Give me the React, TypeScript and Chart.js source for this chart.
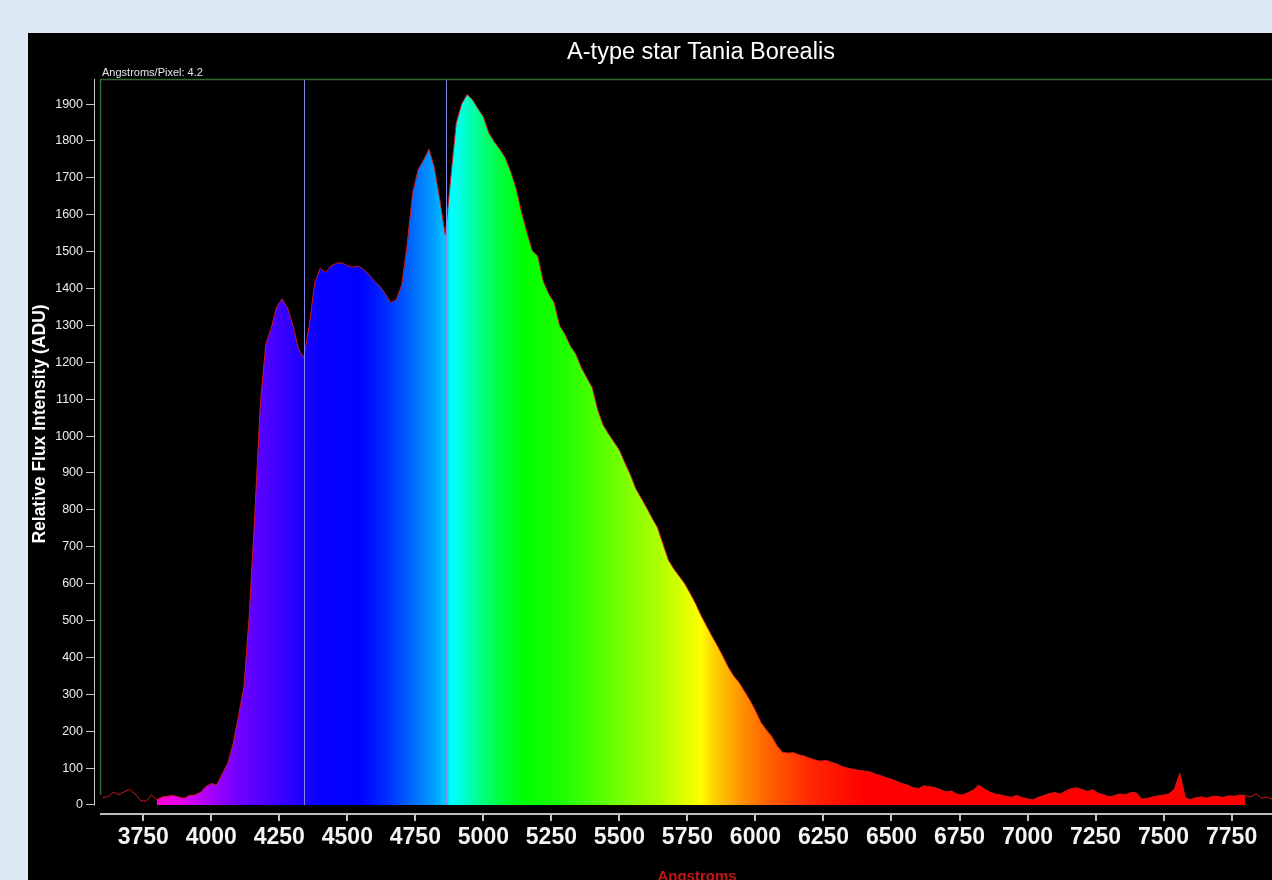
import React, { useEffect, useRef } from "react";
import { Chart, registerables } from "chart.js";

Chart.register(...registerables);

// ---- Data -----------------------------------------------------------------
const chartTitle = "A-type star Tania Borealis";
const dispersionLabel = "Angstroms/Pixel: 4.2";
const yAxisTitle = "Relative Flux Intensity (ADU)";
const xAxisTitle = "Angstroms";

const wavelengths = [
  3600, 3620, 3640, 3660, 3680, 3700, 3720, 3740, 3760, 3780,
  3800, 3820, 3840, 3860, 3880, 3900, 3920, 3940, 3960, 3980,
  4000, 4020, 4040, 4060, 4080, 4100, 4120, 4140, 4160, 4180,
  4200, 4220, 4240, 4260, 4280, 4300, 4320, 4340, 4360, 4380,
  4400, 4420, 4440, 4460, 4480, 4500, 4520, 4540, 4560, 4580,
  4600, 4620, 4640, 4660, 4680, 4700, 4720, 4740, 4760, 4780,
  4800, 4820, 4840, 4860, 4880, 4900, 4920, 4940, 4960, 4980,
  5000, 5020, 5040, 5060, 5080, 5100, 5120, 5140, 5160, 5180,
  5200, 5220, 5240, 5260, 5280, 5300, 5320, 5340, 5360, 5380,
  5400, 5420, 5440, 5460, 5480, 5500, 5520, 5540, 5560, 5580,
  5600, 5620, 5640, 5660, 5680, 5700, 5720, 5740, 5760, 5780,
  5800, 5820, 5840, 5860, 5880, 5900, 5920, 5940, 5960, 5980,
  6000, 6020, 6040, 6060, 6080, 6100, 6120, 6140, 6160, 6180,
  6200, 6220, 6240, 6260, 6280, 6300, 6320, 6340, 6360, 6380,
  6400, 6420, 6440, 6460, 6480, 6500, 6520, 6540, 6560, 6580,
  6600, 6620, 6640, 6660, 6680, 6700, 6720, 6740, 6760, 6780,
  6800, 6820, 6840, 6860, 6880, 6900, 6920, 6940, 6960, 6980,
  7000, 7020, 7040, 7060, 7080, 7100, 7120, 7140, 7160, 7180,
  7200, 7220, 7240, 7260, 7280, 7300, 7320, 7340, 7360, 7380,
  7400, 7420, 7440, 7460, 7480, 7500, 7520, 7540, 7560, 7580,
  7600, 7620, 7640, 7660, 7680, 7700, 7720, 7740, 7760, 7780,
  7800, 7820, 7840, 7860, 7880, 7900,
];

const flux = [
  20, 22, 35, 28, 36, 42, 30, 12, 10, 27,
  14, 22, 24, 26, 22, 18, 26, 27, 34, 50,
  58, 54, 84, 112, 165, 242, 320, 520, 790, 1085,
  1248, 1292, 1350, 1372, 1348, 1300, 1238, 1212, 1300, 1415,
  1455, 1443, 1462, 1468, 1470, 1462, 1458, 1461, 1452, 1438,
  1420, 1406, 1385, 1362, 1370, 1410, 1520, 1660, 1722, 1748,
  1778, 1728, 1640, 1545, 1700, 1848, 1900, 1926, 1912, 1888,
  1866, 1822, 1798, 1778, 1755, 1718, 1672, 1608, 1552, 1502,
  1488, 1420, 1386, 1362, 1300, 1276, 1244, 1222, 1186, 1158,
  1132, 1072, 1030, 1006, 984, 962, 928, 896, 858, 832,
  806, 778, 752, 708, 664, 640, 620, 600, 574, 546,
  514, 486, 458, 432, 404, 374, 350, 332, 308, 284,
  256, 224, 204, 186, 160, 143, 141, 142, 136, 133,
  127, 122, 119, 121, 116, 111, 104, 100, 97, 94,
  92, 90, 84, 80, 74, 70, 64, 58, 54, 47,
  45, 52, 50, 47, 42, 36, 38, 30, 27, 33,
  40, 54, 44, 36, 30, 28, 24, 21, 26, 20,
  17, 14, 21, 26, 31, 34, 30, 38, 44, 47,
  42, 37, 41, 32, 28, 22, 26, 30, 28, 34,
  33, 16, 18, 22, 25, 27, 30, 44, 86, 20,
  15, 20, 22, 19, 24, 23, 21, 25, 24, 27,
  26, 22, 30, 18, 22, 15,
];

const xTickValues = [3750, 4000, 4250, 4500, 4750, 5000, 5250, 5500, 5750, 6000, 6250, 6500, 6750, 7000, 7250, 7500, 7750];
const yTickValues = [0, 100, 200, 300, 400, 500, 600, 700, 800, 900, 1000, 1100, 1200, 1300, 1400, 1500, 1600, 1700, 1800, 1900];

// Balmer line markers (H-gamma, H-beta)
const markerLines = [4340, 4861];

// wavelength range that is filled with spectrum colours
const fillStart = 3800;
const fillEnd = 7800;

// ---- Styles ---------------------------------------------------------------
const spectrumStops: [number, string][] = [
  [3800, "#ff00d8"],
  [3900, "#e000f0"],
  [4000, "#a400ff"],
  [4100, "#7000ff"],
  [4200, "#5000ff"],
  [4300, "#2a00ff"],
  [4400, "#0600ff"],
  [4550, "#0000ff"],
  [4650, "#0030ff"],
  [4750, "#0070ff"],
  [4820, "#00a0ff"],
  [4860, "#00c8ff"],
  [4880, "#00ffff"],
  [4920, "#00ffe0"],
  [4980, "#00ff90"],
  [5060, "#00ff40"],
  [5150, "#00ff00"],
  [5300, "#20ff00"],
  [5450, "#60ff00"],
  [5650, "#b0ff00"],
  [5800, "#ffff00"],
  [5850, "#ffd000"],
  [5950, "#ff9000"],
  [6050, "#ff6000"],
  [6200, "#ff2800"],
  [6400, "#ff0000"],
  [7800, "#ff0000"],
];

const FONT = "'Liberation Sans', Arial, sans-serif";
const CANVAS_W = 1346;
const CANVAS_H = 847;

function spectrumGradient(chart: any) {
  const { ctx, chartArea, scales } = chart;
  if (!chartArea || !scales || !scales.x) return "rgba(0,0,0,0)";
  const x0 = scales.x.getPixelForValue(fillStart);
  const x1 = scales.x.getPixelForValue(fillEnd);
  const g = ctx.createLinearGradient(x0, 0, x1, 0);
  for (const [w, c] of spectrumStops) {
    g.addColorStop(Math.min(1, Math.max(0, (w - fillStart) / (fillEnd - fillStart))), c);
  }
  return g;
}

const decoPlugin = {
  id: "deco",
  afterDatasetsDraw(chart: any) {
    const { ctx, chartArea, scales } = chart;
    const y0 = scales.y.getPixelForValue(0);
    ctx.save();
    ctx.strokeStyle = "#7f86e8";
    ctx.lineWidth = 1;
    for (const w of markerLines) {
      const x = Math.round(scales.x.getPixelForValue(w)) + 0.5;
      ctx.beginPath();
      ctx.moveTo(x, chartArea.top);
      ctx.lineTo(x, y0);
      ctx.stroke();
    }
    ctx.restore();
  },
  afterDraw(chart: any) {
    const { ctx, chartArea, scales, width } = chart;
    const y0 = scales.y.getPixelForValue(0);
    ctx.save();
    // green plot frame
    ctx.strokeStyle = "#2e6a2e";
    ctx.lineWidth = 1.5;
    ctx.beginPath();
    ctx.moveTo(chartArea.left + 5.5, y0 - 10);
    ctx.lineTo(chartArea.left + 5.5, chartArea.top + 0.5);
    ctx.lineTo(width, chartArea.top + 0.5);
    ctx.stroke();
    // y axis line
    ctx.strokeStyle = "#c8c8c8";
    ctx.lineWidth = 1;
    ctx.beginPath();
    ctx.moveTo(chartArea.left - 0.5, chartArea.top);
    ctx.lineTo(chartArea.left - 0.5, y0 + 0.5);
    ctx.stroke();
    // x axis line
    ctx.strokeStyle = "#bdbdbd";
    ctx.lineWidth = 2;
    ctx.beginPath();
    ctx.moveTo(chartArea.left + 5, chartArea.bottom + 1);
    ctx.lineTo(width, chartArea.bottom + 1);
    ctx.stroke();

    // texts
    ctx.fillStyle = "#ffffff";
    ctx.font = `23.5px ${FONT}`;
    ctx.textAlign = "center";
    ctx.textBaseline = "middle";
    ctx.fillText(chartTitle, 673, 20);

    ctx.fillStyle = "#e6e6e6";
    ctx.font = `11px ${FONT}`;
    ctx.textAlign = "left";
    ctx.fillText(dispersionLabel, 74, 39.5);

    ctx.save();
    ctx.translate(12, 391);
    ctx.rotate(-Math.PI / 2);
    ctx.fillStyle = "#ffffff";
    ctx.font = `bold 17.5px ${FONT}`;
    ctx.textAlign = "center";
    ctx.textBaseline = "middle";
    ctx.fillText(yAxisTitle, 0, 0);
    ctx.restore();

    ctx.fillStyle = "#c41414";
    ctx.font = `bold 15px ${FONT}`;
    ctx.textAlign = "center";
    ctx.textBaseline = "alphabetic";
    ctx.fillText(xAxisTitle, 669, 848);
    ctx.restore();
  },
};

export default function App() {
  const ref = useRef<HTMLCanvasElement>(null);

  useEffect(() => {
    if (!ref.current) return;
    const points = wavelengths.map((w, i) => ({ x: w, y: flux[i] }));
    const fillPoints = points.filter((p) => p.x >= fillStart && p.x <= fillEnd);

    const chart = new Chart(ref.current, {
      type: "line",
      data: {
        datasets: [
          {
            data: points,
            borderColor: "#cc1a1a",
            borderWidth: 1,
            pointRadius: 0,
            fill: false,
            tension: 0,
          },
          {
            data: fillPoints,
            borderColor: "rgba(0,0,0,0)",
            borderWidth: 0,
            pointRadius: 0,
            fill: "origin",
            tension: 0,
            backgroundColor: (c: any) => spectrumGradient(c.chart),
          },
        ],
      } as any,
      options: {
        animation: false,
        responsive: false,
        events: [],
        layout: { padding: { top: 46, right: 88, left: 0, bottom: 0 } },
        plugins: {
          legend: { display: false },
          tooltip: { enabled: false },
          title: { display: false },
        },
        scales: {
          x: {
            type: "linear",
            min: 3572.5,
            max: 7950,
            afterFit: (s: any) => {
              s.height = 67;
            },
            afterBuildTicks: (s: any) => {
              s.ticks = xTickValues.map((v) => ({ value: v }));
            },
            border: { display: false },
            grid: {
              drawOnChartArea: false,
              drawTicks: true,
              tickLength: 8,
              color: "#c4c4c4",
              lineWidth: 2,
            },
            ticks: {
              color: "#f4f4f4",
              font: { family: FONT, size: 23, weight: "bold" },
              padding: 3,
              maxRotation: 0,
              autoSkip: false,
              callback: (v: any) => String(v),
            },
          },
          y: {
            type: "linear",
            min: -21.7,
            max: 1968,
            afterFit: (s: any) => {
              s.width = 67;
            },
            afterBuildTicks: (s: any) => {
              s.ticks = yTickValues.map((v) => ({ value: v }));
            },
            border: { display: false },
            grid: {
              drawOnChartArea: false,
              drawTicks: true,
              tickLength: 9,
              color: "#c8c8c8",
              lineWidth: 1,
            },
            ticks: {
              color: "#ececec",
              font: { family: FONT, size: 12.5 },
              padding: 3,
              autoSkip: false,
              callback: (v: any) => String(v),
            },
          },
        },
      } as any,
      plugins: [decoPlugin],
    });
    return () => chart.destroy();
  }, []);

  return (
    <div
      style={{
        position: "fixed",
        inset: 0,
        overflow: "hidden",
        background: "#dde9f5",
      }}
    >
      <div
        style={{
          position: "absolute",
          left: 28,
          top: 33,
          width: CANVAS_W,
          height: CANVAS_H,
          background: "#000000",
        }}
      >
        <canvas ref={ref} width={CANVAS_W} height={CANVAS_H} style={{ display: "block" }} />
      </div>
    </div>
  );
}
